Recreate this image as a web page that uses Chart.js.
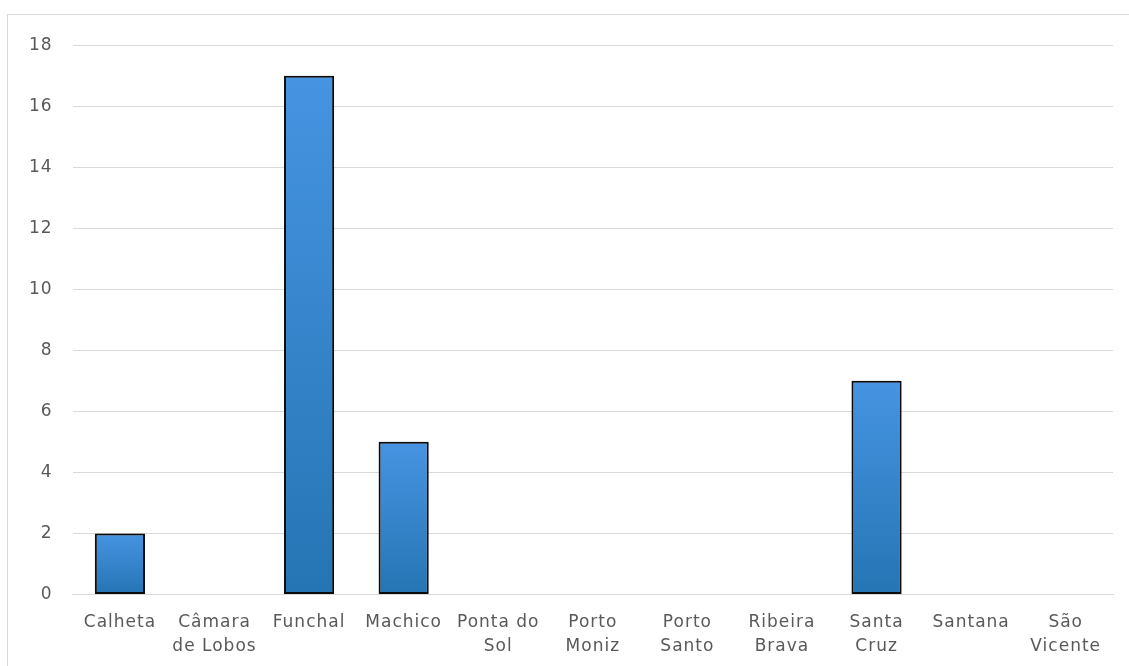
<!DOCTYPE html>
<html>
<head>
<meta charset="utf-8">
<script src="https://cdn.jsdelivr.net/npm/chart.js@4/dist/chart.umd.min.js"></script>
<style>
  html, body { margin: 0; padding: 0; background: #fff; overflow: hidden; }
  #frame {
    position: absolute; left: 7px; top: 14px; width: 1140px; height: 680px;
    border: 1px solid #d9d9d9; box-sizing: border-box;
  }
  #wrap { position: absolute; left: 8px; top: 15px; width: 1121px; height: 651px; }
</style>
</head>
<body>
<div id="frame"></div>
<div id="wrap"><canvas id="barChart"></canvas></div>
<script>
// municipalities (multi-line labels as shown under the axis)
const categories = [
    ["Calheta"], ["Câmara", "de Lobos"], ["Funchal"], ["Machico"], ["Ponta do", "Sol"],
    ["Porto", "Moniz"], ["Porto", "Santo"], ["Ribeira", "Brava"], ["Santa", "Cruz"],
    ["Santana"], ["São", "Vicente"]
]
const counts = [2, 0, 17, 5, 0, 0, 0, 0, 7, 0, 0]
const yTicks = [0, 2, 4, 6, 8, 10, 12, 14, 16, 18]

const FONT = "'DejaVu Sans', sans-serif"

function barGradient(context) {
    const chart = context.chart
    const y = chart.scales.y
    if (!chart.chartArea || !y) return "#3a87d2"
    const value = context.raw || 0
    const top = y.getPixelForValue(value)
    const bottom = y.getPixelForValue(0)
    const g = chart.ctx.createLinearGradient(0, top, 0, bottom === top ? top + 1 : bottom)
    g.addColorStop(0, "#4694e2")
    g.addColorStop(1, "#2575b4")
    return g
}

// wider lettering, closer to the original's geometric face
const spacingPlugin = {
    id: "letterSpacing",
    beforeInit(chart) { chart.ctx.letterSpacing = "1px" },
    beforeUpdate(chart) { chart.ctx.letterSpacing = "1px" },
    beforeDraw(chart) { chart.ctx.letterSpacing = "1px" }
}

const shadowPlugin = {
    id: "barShadow",
    beforeDatasetsDraw(chart) {
        const ctx = chart.ctx
        ctx.save()
        ctx.shadowColor = "rgba(0,0,0,0.25)"
        ctx.shadowBlur = 4
    },
    afterDatasetsDraw(chart) {
        chart.ctx.restore()
    }
}

let barChart = new Chart(

    document.getElementById("barChart"),

    {
        type: "bar",

        data: {
            labels: categories,
            datasets: [{
                data: counts,
                backgroundColor: barGradient,
                borderColor: "#0d0d0d",
                borderWidth: 2,
                borderSkipped: false,
                barPercentage: 0.53,
                categoryPercentage: 1
            }]
        },

        options: {
            responsive: true,
            maintainAspectRatio: false,
            animation: false,
            layout: { padding: { left: 1, right: 16, top: 29, bottom: 0 } },
            plugins: {
                legend: { display: false },
                tooltip: { enabled: false }
            },
            scales: {
                x: {
                    grid: { display: false },
                    border: { display: true, color: "#d9d9d9", width: 1 },
                    ticks: {
                        color: "#595959",
                        font: { family: FONT, size: 17, lineHeight: 1.4 },
                        padding: 8,
                        maxRotation: 0,
                        autoSkip: false
                    }
                },
                y: {
                    min: 0,
                    max: 18,
                    afterBuildTicks(axis) { axis.ticks = yTicks.map(v => ({ value: v })) },
                    grid: { color: "#d9d9d9", lineWidth: 1, drawTicks: false },
                    border: { display: false },
                    ticks: {
                        color: "#595959",
                        font: { family: FONT, size: 17 },
                        padding: 20
                    }
                }
            }
        },

        plugins: [spacingPlugin, shadowPlugin]
    })
</script>
</body>
</html>
